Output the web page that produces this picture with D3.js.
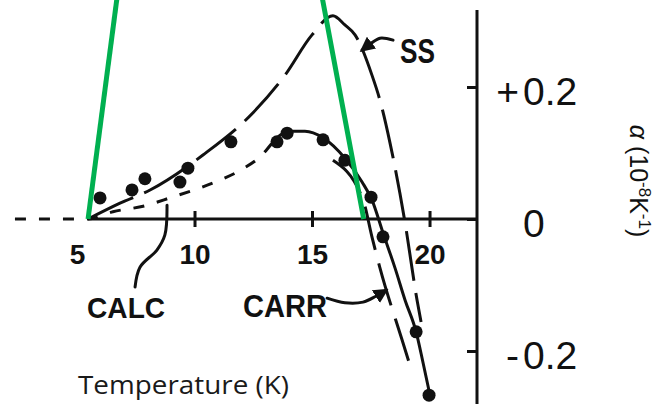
<!DOCTYPE html>
<html>
<head>
<meta charset="utf-8">
<script src="https://cdn.jsdelivr.net/npm/d3@7"></script>
<style>
  html, body { margin: 0; padding: 0; background: #fff; }
  svg { display: block; }
</style>
</head>
<body>
<svg id="chart" width="656" height="404"></svg>
<script>
// Axis ticks
const xTickValues = [5, 10, 15, 20];
const xTickMarks = [10, 15, 20];
const yTickValues = [0.2, 0, -0.2];
const yTickLabels = ["+0.2", "0", "-0.2"];

// Measured points: temperature (K) and alpha (1e-8 K^-1)
const measuredT     = [5.98, 7.34, 7.89, 9.38, 9.72, 11.55, 13.51, 13.94, 15.47, 16.40, 17.51, 18.02, 19.43, 19.98];
const measuredAlpha = [0.032, 0.044, 0.061, 0.056, 0.077, 0.117, 0.117, 0.130, 0.120, 0.089, 0.033, -0.027, -0.171, -0.267];

// Curve through the measured points (solid)
const fitT     = [13.30, 13.51, 14.06, 14.70, 15.47, 16.40, 17.13, 17.55, 18.02, 18.53, 18.96, 19.43, 19.72, 20.02];
const fitAlpha = [0.115, 0.123, 0.133, 0.133, 0.123, 0.092, 0.056, 0.029, -0.021, -0.074, -0.123, -0.171, -0.217, -0.267];

// SS (long dashes)
const ssT     = [5.47, 6.83, 8.11, 10.36, 12.49, 13.85, 15.00, 15.89, 16.40, 16.83, 17.55, 17.89, 18.32, 18.74, 18.96, 19.47, 19.64];
const ssAlpha = [0.000, 0.024, 0.044, 0.097, 0.161, 0.218, 0.279, 0.308, 0.294, 0.279, 0.218, 0.180, 0.115, 0.039, -0.006, -0.123, -0.156];

// CALC (short dashes)
const calcT     = [2.36, 5.47, 6.53, 7.89, 9.04, 10.23, 11.09, 12.06, 12.87, 13.30];
const calcAlpha = [0.000, 0.000, 0.011, 0.020, 0.033, 0.047, 0.059, 0.076, 0.097, 0.115];

// CARR (long dashes)
const carrT     = [15.89, 17.17, 17.55, 17.89, 18.83, 19.26];
const carrAlpha = [0.089, 0.029, -0.027, -0.074, -0.183, -0.232];

// Green guide lines
const guideLeftT      = [5.47, 6.72];
const guideLeftAlpha  = [0.0, 0.34];
const guideRightT     = [17.20, 15.41];
const guideRightAlpha = [0.0, 0.34];

// Curve labels and their pointer paths
const labelNames = ["SS", "CALC", "CARR"];
const labelT     = [18.74, 5.43, 12.06];
const labelAlpha = [0.236, -0.150, -0.148];
const ssPointerT      = [18.45, 17.89, 17.47, 17.13];
const ssPointerAlpha  = [0.271, 0.274, 0.265, 0.256];
const calcPointerT     = [7.47, 7.68, 8.40, 8.74, 8.83];
const calcPointerAlpha = [-0.103, -0.073, -0.047, -0.024, 0.021];
const carrPointerT     = [15.64, 16.40, 17.17, 17.72, 18.15];
const carrPointerAlpha = [-0.120, -0.127, -0.126, -0.117, -0.108];

const xTitle = "Temperature (K)";

const svg = d3.select("#chart");
const ink = "#111";
const green = "#00B050";

const x = d3.scaleLinear().domain([5, 22.02]).range([77, 477]);
const y = d3.scaleLinear().domain([-0.2, 0.2]).range([351, 87]);

const line = d3.line().x(d => x(d[0])).y(d => y(d[1]));
const smooth = d3.line().x(d => x(d[0])).y(d => y(d[1])).curve(d3.curveMonotoneX);
const pointer = d3.line().x(d => x(d[0])).y(d => y(d[1])).curve(d3.curveCatmullRom);

// Arrowhead marker
svg.append("defs").append("marker")
  .attr("id", "head")
  .attr("viewBox", "0 0 10 10")
  .attr("refX", 8).attr("refY", 5)
  .attr("markerWidth", 5).attr("markerHeight", 5)
  .attr("orient", "auto")
  .append("path").attr("d", "M0,0 L10,5 L0,10 Z").attr("fill", ink);

// Temperature axis line
const xLeft = 5.47;
svg.append("line")
  .attr("x1", x(xLeft)).attr("x2", x.range()[1])
  .attr("y1", y(0)).attr("y2", y(0))
  .attr("stroke", ink).attr("stroke-width", 3);

const xAxis = d3.axisBottom(x).tickValues(xTickValues).tickFormat(d3.format("d")).tickSize(0).tickPadding(0);
const gx = svg.append("g").attr("transform", `translate(0,${y(0)})`).call(xAxis);
gx.select(".domain").remove();
gx.selectAll(".tick").each(function(d) {
  const t = d3.select(this);
  t.select("line").remove();
  if (xTickMarks.includes(d)) {
    t.append("line").attr("y1", -8).attr("y2", 8).attr("stroke", ink).attr("stroke-width", 3);
  }
  t.select("text")
    .attr("y", 45).attr("dy", null)
    .attr("fill", ink)
    .style("font-family", "'Liberation Sans', Arial, sans-serif")
    .style("font-weight", "bold")
    .style("font-size", "28px");
});

// Alpha axis on the right
const yAxisX = x.range()[1];
svg.append("line")
  .attr("x1", yAxisX).attr("x2", yAxisX)
  .attr("y1", 10).attr("y2", 404)
  .attr("stroke", ink).attr("stroke-width", 3);

const yAxis = d3.axisRight(y).tickValues(yTickValues).tickSize(0).tickFormat((d, i) => yTickLabels[i]);
const gy = svg.append("g").attr("transform", `translate(${yAxisX},0)`).call(yAxis);
gy.select(".domain").remove();
gy.selectAll(".tick").each(function(d, i) {
  const t = d3.select(this);
  t.select("line").remove();
  t.append("line").attr("x1", -10).attr("x2", 0).attr("stroke", ink).attr("stroke-width", 3);
  const lbl = yTickLabels[i];
  const m = lbl.match(/^([+\-]?)(.*)$/);
  t.select("text").remove();
  const font = "'Liberation Sans', Arial, sans-serif";
  t.append("text").text(m[1])
    .attr("x", 42).attr("y", 17)
    .attr("text-anchor", "end").attr("fill", ink)
    .style("font-family", font).style("font-size", "39px");
  t.append("text").text(m[2])
    .attr("x", 46).attr("y", 17)
    .attr("text-anchor", "start").attr("fill", ink)
    .style("font-family", font).style("font-size", "39px");
});

// Curves
svg.append("path").attr("d", smooth(d3.zip(calcT, calcAlpha)))
  .attr("fill", "none").attr("stroke", ink).attr("stroke-width", 3)
  .attr("stroke-dasharray", "11,13");
svg.append("path").attr("d", smooth(d3.zip(ssT, ssAlpha)))
  .attr("fill", "none").attr("stroke", ink).attr("stroke-width", 3)
  .attr("stroke-dasharray", "50,12");
svg.append("path").attr("d", smooth(d3.zip(carrT, carrAlpha)))
  .attr("fill", "none").attr("stroke", ink).attr("stroke-width", 3)
  .attr("stroke-dasharray", "44,14");
svg.append("path").attr("d", smooth(d3.zip(fitT, fitAlpha)))
  .attr("fill", "none").attr("stroke", ink).attr("stroke-width", 3);

// Measured points
svg.append("g").selectAll("circle")
  .data(d3.zip(measuredT, measuredAlpha))
  .join("circle")
  .attr("cx", d => x(d[0])).attr("cy", d => y(d[1]))
  .attr("r", 6.5).attr("fill", ink);

// Curve labels
const labelSizes = { "SS": [35, 35], "CALC": [30, 78], "CARR": [32, 84] };
labelNames.forEach((name, i) => {
  svg.append("text").text(name)
    .attr("x", x(labelT[i])).attr("y", y(labelAlpha[i]))
    .attr("fill", ink)
    .attr("textLength", labelSizes[name][1])
    .attr("lengthAdjust", "spacingAndGlyphs")
    .style("font-family", "'Liberation Sans', Arial, sans-serif")
    .style("font-weight", "bold")
    .style("font-size", labelSizes[name][0] + "px");
});

// Pointers from labels to curves
[[ssPointerT, ssPointerAlpha, true], [calcPointerT, calcPointerAlpha, false], [carrPointerT, carrPointerAlpha, true]]
  .forEach(([ts, as, head]) => {
    const p = svg.append("path").attr("d", pointer(d3.zip(ts, as)))
      .attr("fill", "none").attr("stroke", ink).attr("stroke-width", 3)
      .attr("stroke-linecap", "round");
    if (head) p.attr("marker-end", "url(#head)");
  });

// Green guide lines
[[guideLeftT, guideLeftAlpha], [guideRightT, guideRightAlpha]].forEach(([ts, as]) => {
  svg.append("path").attr("d", line(d3.zip(ts, as)))
    .attr("fill", "none").attr("stroke", green).attr("stroke-width", 5);
});

// Axis titles
svg.append("text").text(xTitle)
  .attr("x", 78).attr("y", 394)
  .attr("fill", "#1a1a1a")
  .attr("textLength", 211).attr("lengthAdjust", "spacingAndGlyphs")
  .style("font-family", "'Open Sans', 'Noto Sans', sans-serif")
  .style("font-size", "25px");

const yTitle = svg.append("text")
  .attr("transform", "translate(630,181) rotate(90)")
  .attr("text-anchor", "middle")
  .attr("fill", ink)
  .style("font-family", "'Liberation Sans', Arial, sans-serif")
  .style("font-size", "25px");
yTitle.append("tspan").text("α").style("font-style", "italic");
yTitle.append("tspan").text(" (10");
yTitle.append("tspan").text("-8").attr("baseline-shift", "super").style("font-size", "17px");
yTitle.append("tspan").text("K");
yTitle.append("tspan").text("-1").attr("baseline-shift", "super").style("font-size", "17px");
yTitle.append("tspan").text(")");
</script>
</body>
</html>
